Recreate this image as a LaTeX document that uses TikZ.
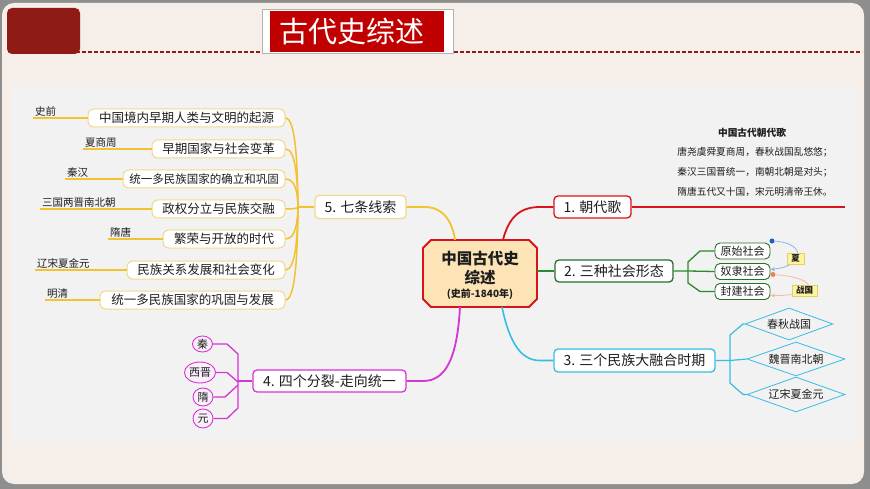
\documentclass[tikz,border=0pt]{standalone}
\usepackage{fontspec}
\setmainfont{Noto Sans CJK SC}
\usetikzlibrary{shapes.geometric,arrows.meta}
\newcommand\fsz[1]{\fontsize{#1}{#1}\selectfont}
\definecolor{frame}{HTML}{8E8E8E}
\definecolor{cream}{HTML}{F5EEE9}
\definecolor{panel}{HTML}{F2F2F2}
\definecolor{dred}{HTML}{8E1B16}
\definecolor{tred}{HTML}{C00000}
\definecolor{gold}{HTML}{F2C230}
\definecolor{paleg}{HTML}{F0D98C}
\definecolor{mred}{HTML}{D9131B}
\definecolor{mgreen}{HTML}{2B8A2B}
\definecolor{dgreen}{HTML}{2A6E2A}
\definecolor{mcyan}{HTML}{35BEE3}
\definecolor{mmag}{HTML}{D535D5}
\definecolor{txt}{HTML}{1E1E1E}
\definecolor{corefill}{HTML}{FCE4B6}
\definecolor{notey}{HTML}{FDF49E}
\definecolor{noteb}{HTML}{E3CF6A}
\definecolor{bdot}{HTML}{1C5FC0}
\definecolor{bline}{HTML}{8DB6E6}
\definecolor{odot}{HTML}{E8845A}
\definecolor{oline}{HTML}{F2BCA6}
\definecolor{efill}{HTML}{FCEFFC}
\tikzset{
  leafbox/.style={draw=paleg, fill=white, rounded corners=6pt, line width=1pt, minimum height=18pt, font=\fsz{12.5}},
  lab/.style={anchor=south west, font=\fsz{10.5}},
  goldline/.style={draw=gold, line width=1.5pt},
  uline/.style={draw=gold, line width=1.1pt},
  mainbox/.style={fill=white, rounded corners=4pt, line width=1.3pt, minimum height=22pt, font=\fsz{14}},
  gbox/.style={draw=dgreen, fill=white, rounded corners=5pt, line width=0.9pt, minimum width=55pt, minimum height=16pt, font=\fsz{11}},
  dia/.style={diamond, aspect=2.8, draw=mcyan, line width=0.8pt, font=\fsz{11}},
  mell/.style={ellipse, draw=mmag, fill=efill, line width=0.9pt, font=\fsz{11}},
  note/.style={fill=notey, draw=noteb, line width=0.5pt, minimum height=11pt, font=\fsz{8.5}\bfseries},
  poem/.style={font=\fsz{9.7}},
}
\begin{document}
\begin{tikzpicture}[x=1pt,y=-1pt, every node/.style={text=txt, inner sep=0pt}]
\useasboundingbox (0,0) rectangle (870,489);
% frame
\fill[frame] (0,0) rectangle (870,489);
\fill[cream, rounded corners=12pt] (2,3) rectangle (864,484);
\fill[panel] (11,88) rectangle (857,440);
\draw[dred, line width=1.5pt, dash pattern=on 4pt off 2pt] (64,52) -- (862,52);
\fill[dred, rounded corners=5pt] (7,8) rectangle (80,54);
\draw[gray!60, fill=white, line width=0.6pt] (262,9) rectangle (453,53);
\fill[tred] (270,11) rectangle (444,52);
\node[text=white, font=\fsz{29}] (title) at (352,31) {古代史综述};

% branch 5 leaves
\node[leafbox, minimum width=197pt] (l1) at (186.5,118) {中国境内早期人类与文明的起源};
\node[leafbox, minimum width=133pt] (l2) at (218.5,149) {早期国家与社会变革};
\node[leafbox, minimum width=162pt, font=\fsz{11.5}] (l3) at (204,179) {统一多民族国家的确立和巩固};
\node[leafbox, minimum width=133pt] (l4) at (218.5,209) {政权分立与民族交融};
\node[leafbox, minimum width=122pt] (l5) at (224,239) {繁荣与开放的时代};
\node[leafbox, minimum width=158pt] (l6) at (206,270) {民族关系发展和社会变化};
\node[leafbox, minimum width=185pt] (l7) at (192.5,300) {统一多民族国家的巩固与发展};

\node[lab] (t1) at (35,116.5) {史前};
\node[lab] (t2) at (85,147.5) {夏商周};
\node[lab] (t3) at (67,177.5) {秦汉};
\node[lab] (t4) at (42,207.5) {三国两晋南北朝};
\node[lab] (t5) at (110,237.5) {隋唐};
\node[lab] (t6) at (37,268.5) {辽宋夏金元};
\node[lab] (t7) at (47,298.5) {明清};
\coordinate (u1) at (33,118);
\coordinate (u2) at (83,149);
\coordinate (u3) at (65,179);
\coordinate (u4) at (40,209);
\coordinate (u5) at (108,239);
\coordinate (u6) at (35,270);
\coordinate (u7) at (45,300);
\draw[uline] (u1) -- (l1.west);
\draw[uline] (u2) -- (l2.west);
\draw[uline] (u3) -- (l3.west);
\draw[uline] (u4) -- (l4.west);
\draw[uline] (u5) -- (l5.west);
\draw[uline] (u6) -- (l6.west);
\draw[uline] (u7) -- (l7.west);

\coordinate (j5) at (298,207);
\draw[goldline] (l1.east) .. controls (296,118) and (297.5,167) .. (j5);
\draw[goldline] (l2.east) .. controls (296,149) and (297.5,181) .. (j5);
\draw[goldline] (l3.east) .. controls (296,179) and (297.5,194) .. (j5);
\draw[goldline] (l4.east) .. controls (296,209) and (297.5,208) .. (j5);
\draw[goldline] (l5.east) .. controls (296,239) and (297.5,221) .. (j5);
\draw[goldline] (l6.east) .. controls (296,270) and (297.5,235) .. (j5);
\draw[goldline] (l7.east) .. controls (296,300) and (297.5,249) .. (j5);

% main boxes
\node[mainbox, draw=paleg, minimum width=91pt, minimum height=23pt] (b5) at (360.5,207) {5. 七条线索};
\node[mainbox, draw=mred, minimum width=77pt] (b1) at (592.5,207) {1. 朝代歌};
\node[mainbox, draw=dgreen, minimum width=118pt] (b2) at (614,271) {2. 三种社会形态};
\node[mainbox, draw=mcyan, minimum width=161pt, minimum height=23pt] (b3) at (634.5,360.5) {3. 三个民族大融合时期};
\node[mainbox, draw=mmag, minimum width=153pt] (b4) at (329.5,381) {4. 四个分裂-走向统一};
\draw[goldline] (j5) -- (b5.west);

% core
\fill[corefill, draw=mred, line width=1.8pt] (431,240) -- (529,240) -- (537,248) -- (537,299) -- (529,307) -- (431,307) -- (423,299) -- (423,248) -- cycle;
\node[minimum width=114pt, minimum height=67pt] (core) at (480,273.5) {};
\node[font=\fsz{15.5}\bfseries] (c1) at (480,258.5) {中国古代史};
\node[font=\fsz{15.5}\bfseries] (c2) at (480,278) {综述};
\node[font=\fsz{10}\bfseries] (c3) at (480,294) {(史前-1840年)};

% main connectors
\draw[goldline, line width=1.8pt] (b5.east) -- (425,207) .. controls (445,207) and (453,225) .. ([xshift=-25pt]core.north);
\draw[mred, line width=1.8pt] ([xshift=23pt]core.north) .. controls (509,217) and (520,207) .. (540,207) -- (b1.west);
\draw[mgreen, line width=1.8pt] (b2.west -| core.east) -- (b2.west);
\draw[mcyan, line width=1.6pt] ([xshift=22pt]core.south) .. controls (510,345) and (522,360.5) .. (540,360.5) -- (b3.west);
\draw[mmag, line width=1.8pt] ([xshift=-20pt]core.south) .. controls (457,360) and (445,381) .. (423,381) -- (b4.east);

% branch 1
\coordinate (p1end) at (845,207);
\draw[mred, line width=1.1pt] (b1.east) -- (p1end);
\node[poem, font=\fsz{9.7}\bfseries] (p0) at (752,133) {中国古代朝代歌};
\node[poem] (p1) at (755,152.5) {唐尧虞舜夏商周，春秋战国乱悠悠；};
\node[poem] (p2) at (755,172) {秦汉三国晋统一，南朝北朝是对头；};
\node[poem] (p3) at (755,191.5) {隋唐五代又十国，宋元明清帝王休。};

% branch 2
\node[gbox] (g1) at (742.5,251) {原始社会};
\node[gbox] (g2) at (742.5,271.5) {奴隶社会};
\node[gbox] (g3) at (742.5,291.5) {封建社会};
\coordinate (gj) at (688,271);
\draw[mgreen, line width=1.3pt] (b2.east) -- (gj) -- (g2.west);
\draw[mgreen, line width=1.3pt] (g1.west) -- (700,251) -- (688,262) -- (688,283) -- (700,291.5) -- (g3.west);
\node[circle, fill=bdot, minimum size=5pt] (bd) at (772,241) {};
\node[circle, fill=odot, minimum size=5pt] (od) at (773,274.5) {};
\draw[bline, line width=0.8pt, -{Stealth[length=4.5pt,width=4pt]}] (bd) .. controls (806,243) and (806,266) .. ([yshift=2pt]g2.east);
\draw[oline, line width=0.8pt, -{Stealth[length=4.5pt,width=4pt]}] (od) .. controls (820,278) and (820,296) .. ([yshift=-4pt]g3.east);
\node[note, minimum width=17pt] (n1) at (795.5,258.5) {夏};
\node[note, minimum width=25pt] (n2) at (804.5,290.5) {战国};

% branch 3
\node[dia, minimum width=88pt, minimum height=32pt] (d1) at (789,324) {春秋战国};
\node[dia, minimum width=98pt, minimum height=34pt] (d2) at (796,359) {魏晋南北朝};
\node[dia, minimum width=98pt, minimum height=35pt] (d3) at (796,394.5) {辽宋夏金元};
\coordinate (cj) at (730,360.5);
\draw[mcyan, line width=1.2pt] (b3.east) -- (cj) -- (d2.west);
\draw[mcyan, line width=1.2pt] (d1.west) -- (743,324) -- (730,335) -- (730,383) -- (743,394.5) -- (d3.west);

% branch 4
\node[mell, minimum width=20pt, minimum height=16pt] (e1) at (202.5,344) {秦};
\node[mell, minimum width=31pt, minimum height=21pt] (e2) at (200,372.5) {西晋};
\node[mell, minimum width=20pt, minimum height=18pt] (e3) at (203,397) {隋};
\node[mell, minimum width=20pt, minimum height=19pt] (e4) at (203,418.5) {元};
\coordinate (mj) at (238,381);
\draw[mmag, line width=1.3pt] (b4.west) -- (mj);
\draw[mmag, line width=1.3pt] (e1.east) -- (227,344) -- (238,354) -- (238,408) -- (227,418.5) -- (e4.east);
\draw[mmag, line width=1.3pt] (e2.east) -- (227,372.5) -- (238,382);
\draw[mmag, line width=1.3pt] (e3.east) -- (225,397) -- (238,385);
\end{tikzpicture}
\end{document}
